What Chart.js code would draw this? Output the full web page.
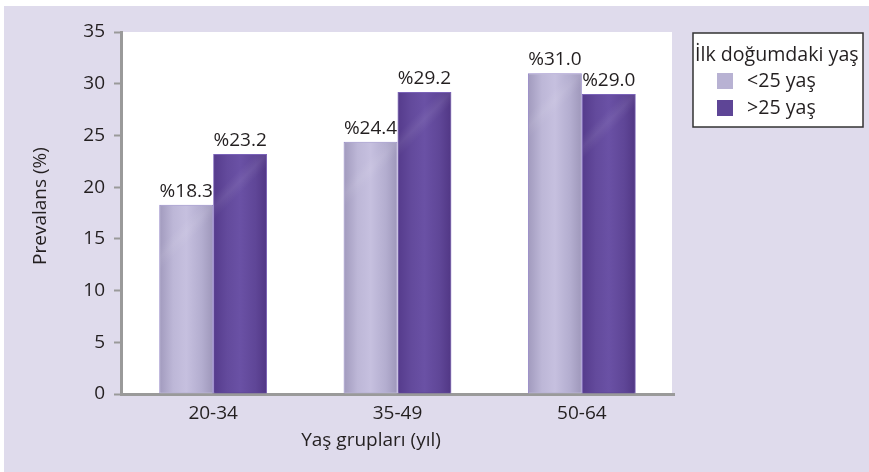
<!DOCTYPE html>
<html>
<head>
<meta charset="utf-8">
<script src="https://cdn.jsdelivr.net/npm/chart.js@4.4.1/dist/chart.umd.min.js"></script>
<style>
  html, body { margin: 0; padding: 0; background: #ffffff; }
  #wrap { width: 869px; height: 472px; }
</style>
</head>
<body>
<div id="wrap"><canvas id="prevalansChart" width="869" height="472"></canvas></div>
<script>
// Prevalans by age group, split by age at first birth
const ageGroups = ['20-34', '35-49', '50-64'];
const under25 = [18.3, 24.4, 31.0];
const over25 = [23.2, 29.2, 29.0];
const seriesNames = ['<25 yaş', '>25 yaş'];
const legendTitle = 'İlk doğumdaki yaş';
const yTitle = 'Prevalans (%)';
const xTitle = 'Yaş grupları (yıl)';
const yMax = 35;
const yStep = 5;

const textColor = '#231f20';
const axisColor = '#9a9a9a';
const panelColor = '#dfdbec';
const fontFamily = "'Open Sans', 'Noto Sans', sans-serif";

// fill + side shading for each series
const barStyles = [
    { base: '#b8b2d3', border: '#9385c6', stops: ['#a39cbf', '#bdb7d7', '#c6c0df', '#b3adcf', '#a099bc'] },
    { base: '#5e4596', border: '#7a62b8', stops: ['#563c8d', '#634a9c', '#6a51a5', '#5f4697', '#523886'] }
];

Chart.defaults.font.family = fontFamily;
Chart.defaults.font.size = 19;
Chart.defaults.color = textColor;

const backgroundPlugin = {
    id: 'panelBackground',
    beforeDraw(chart) {
        const { ctx, chartArea, width, height } = chart;
        ctx.save();
        ctx.fillStyle = '#ffffff';
        ctx.fillRect(0, 0, width, height);
        ctx.fillStyle = panelColor;
        ctx.fillRect(4, 6, width - 4, height - 6);
        ctx.fillStyle = '#ffffff';
        ctx.fillRect(chartArea.left, chartArea.top, chartArea.right - chartArea.left - 2, chartArea.bottom - chartArea.top);
        ctx.restore();
    }
};

// soft shading across each bar
const barShadePlugin = {
    id: 'barShade',
    afterDatasetDraw(chart, args) {
        const { ctx } = chart;
        const style = barStyles[args.index];
        ctx.save();
        args.meta.data.forEach(bar => {
            const left = bar.x - bar.width / 2 + 1;
            const right = bar.x + bar.width / 2 - 1;
            const top = bar.y + 1;
            const bottom = bar.base - 1;
            const g = ctx.createLinearGradient(left, 0, right, 0);
            g.addColorStop(0, style.stops[0]);
            g.addColorStop(0.25, style.stops[1]);
            g.addColorStop(0.5, style.stops[2]);
            g.addColorStop(0.8, style.stops[3]);
            g.addColorStop(1, style.stops[4]);
            ctx.fillStyle = g;
            ctx.fillRect(left, top, right - left, bottom - top);
            // faint diagonal sheen
            const s = ctx.createLinearGradient(left, top, right, top + (right - left));
            s.addColorStop(0, 'rgba(255,255,255,0)');
            s.addColorStop(0.38, 'rgba(255,255,255,0)');
            s.addColorStop(0.5, 'rgba(255,255,255,0.07)');
            s.addColorStop(0.62, 'rgba(255,255,255,0)');
            s.addColorStop(1, 'rgba(255,255,255,0)');
            ctx.fillStyle = s;
            ctx.fillRect(left, top, right - left, bottom - top);
        });
        ctx.restore();
    }
};

const valueLabelPlugin = {
    id: 'valueLabels',
    afterDatasetsDraw(chart) {
        const { ctx } = chart;
        ctx.save();
        ctx.font = '19px ' + fontFamily;
        ctx.fillStyle = textColor;
        ctx.textAlign = 'center';
        ctx.textBaseline = 'alphabetic';
        chart.data.datasets.forEach((ds, i) => {
            chart.getDatasetMeta(i).data.forEach((bar, j) => {
                ctx.fillText('%' + ds.data[j].toFixed(1), bar.x, bar.y - 8);
            });
        });
        ctx.restore();
    }
};

const titlesAndLegendPlugin = {
    id: 'titlesAndLegend',
    afterDraw(chart) {
        const { ctx } = chart;
        ctx.save();
        ctx.fillStyle = textColor;
        ctx.font = '19px ' + fontFamily;

        // axis titles
        ctx.textAlign = 'center';
        ctx.textBaseline = 'middle';
        ctx.fillText(xTitle, 371, 441);
        ctx.save();
        ctx.translate(41, 206);
        ctx.rotate(-Math.PI / 2);
        ctx.fillText(yTitle, 0, 0);
        ctx.restore();

        // legend box
        ctx.fillStyle = '#ffffff';
        ctx.fillRect(693, 33, 170, 94);
        ctx.strokeStyle = '#333333';
        ctx.lineWidth = 1.5;
        ctx.strokeRect(693, 33, 170, 94);

        ctx.fillStyle = textColor;
        ctx.font = '19.6px ' + fontFamily;
        ctx.textAlign = 'left';
        ctx.textBaseline = 'alphabetic';
        ctx.fillText(legendTitle, 695, 61);

        chart.data.datasets.forEach((ds, i) => {
            const y = 81 + i * 27;
            ctx.fillStyle = barStyles[i].base;
            ctx.fillRect(717, y - 8, 16, 16);
            ctx.fillStyle = textColor;
            ctx.textBaseline = 'middle';
            ctx.fillText(ds.label, 747, y);
        });
        ctx.restore();
    }
};

const ctx = document.getElementById('prevalansChart').getContext('2d');

const chart = new Chart(ctx, {
    type: 'bar',
    data: {
        labels: ageGroups,
        datasets: [
            {
                label: seriesNames[0],
                data: under25,
                backgroundColor: barStyles[0].base,
                borderColor: barStyles[0].border,
                borderWidth: 1
            },
            {
                label: seriesNames[1],
                data: over25,
                backgroundColor: barStyles[1].base,
                borderColor: barStyles[1].border,
                borderWidth: 1
            }
        ]
    },
    options: {
        responsive: false,
        animation: false,
        devicePixelRatio: 1,
        categoryPercentage: 0.585,
        barPercentage: 1,
        layout: {
            padding: { top: 32, right: 195, left: 0, bottom: 0 }
        },
        plugins: {
            legend: { display: false },
            tooltip: { enabled: false }
        },
        scales: {
            x: {
                grid: { display: false },
                border: { display: true, color: axisColor, width: 3 },
                ticks: { padding: 0, color: textColor },
                afterFit: function(scale) {
                    scale.height = 78;
                }
            },
            y: {
                min: 0,
                max: yMax,
                ticks: {
                    stepSize: yStep,
                    padding: 9,
                    color: textColor
                },
                grid: {
                    display: true,
                    drawOnChartArea: false,
                    drawTicks: true,
                    tickLength: 7,
                    tickWidth: 2,
                    tickColor: axisColor
                },
                border: { display: true, color: axisColor, width: 3 },
                afterFit: function(scale) {
                    scale.width = 121;
                }
            }
        }
    },
    plugins: [backgroundPlugin, barShadePlugin, valueLabelPlugin, titlesAndLegendPlugin]
});
</script>
</body>
</html>
